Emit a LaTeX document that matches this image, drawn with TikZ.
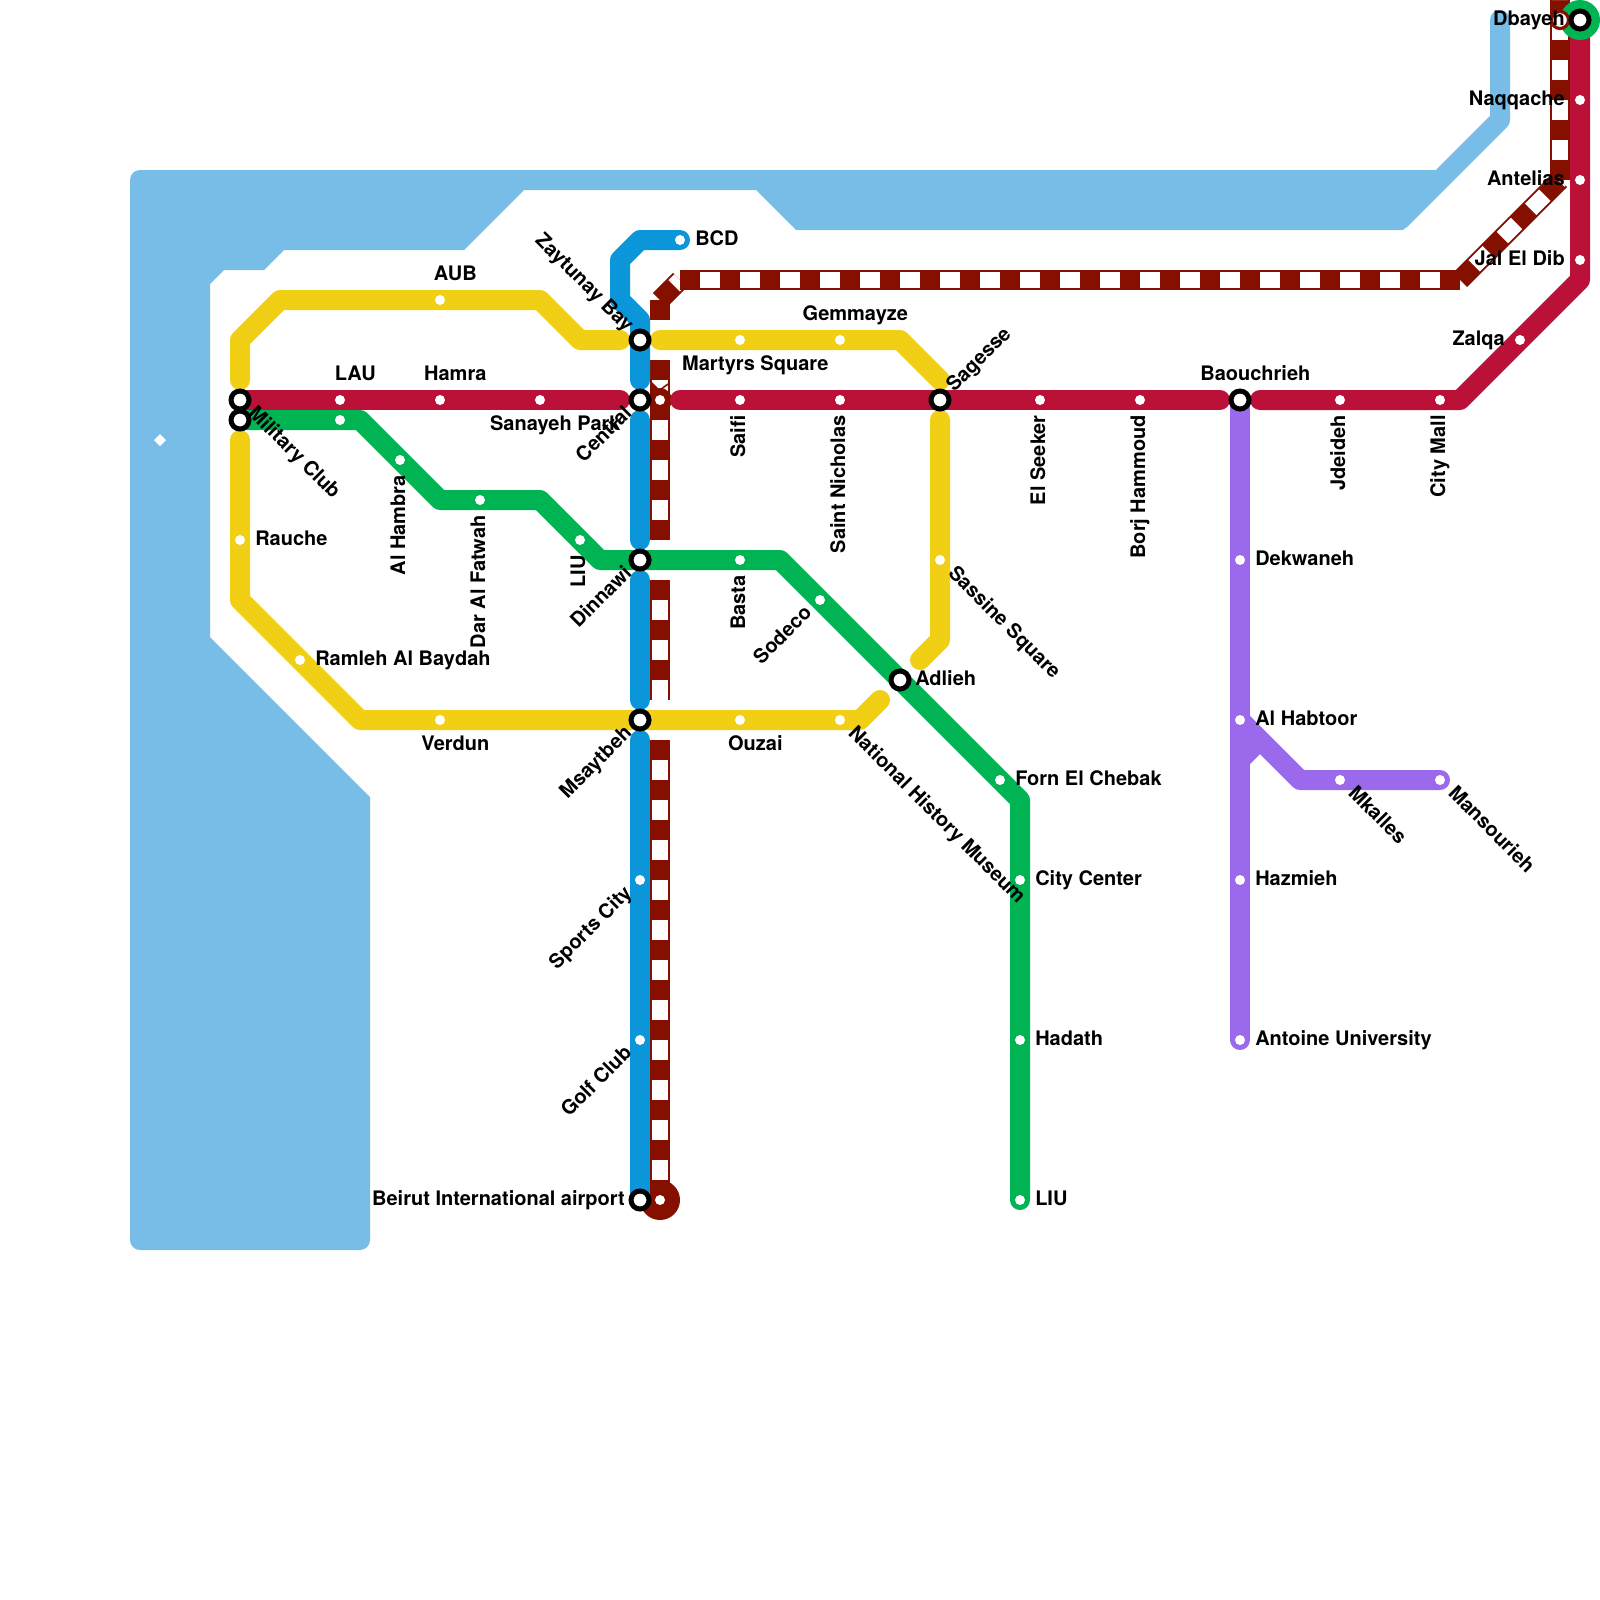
\documentclass[tikz,border=0pt]{standalone}
\usepackage{fontspec}
\setmainfont{TeX Gyre Heros}
\usetikzlibrary{positioning}
\pgfdeclarelayer{lines}
\pgfsetlayers{lines,main}
\definecolor{water}{HTML}{78BCE8}
\definecolor{metroblue}{HTML}{0A96D8}
\definecolor{metroyellow}{HTML}{F0CF15}
\definecolor{metrored}{HTML}{BB1038}
\definecolor{metrogreen}{HTML}{00B454}
\definecolor{metropurple}{HTML}{9B6AEC}
\definecolor{metrorust}{HTML}{851000}
\tikzset{
  metro/.style={draw=#1,line width=15pt,line cap=round,line join=round},
  rail/.style={draw=metrorust,line width=15pt,postaction={draw=white,line width=12pt,dash pattern=on 15pt off 15pt,dash phase=15pt}},
  stop/.style={circle,fill=white,minimum size=7.5pt,inner sep=0pt},
  hub/.style={circle,draw=black,fill=white,line width=3.75pt,minimum size=13.5pt,inner sep=0pt},
  lbl/.style={inner sep=0pt,font=\fontsize{15pt}{18pt}\selectfont\bfseries,text height=10.7pt,text depth=3.2pt,text=black},
  lblR/.style={lbl,anchor=west,xshift=11.25pt},
  lblL/.style={lbl,anchor=east,xshift=-11.25pt},
  lblUp/.style={lbl,xshift=11.5pt,yshift=18.75pt},
  lblDn/.style={lbl,xshift=11.5pt,yshift=-18.75pt}
}
\begin{document}
\begin{tikzpicture}[x=15pt,y=-15pt]
    \useasboundingbox (0,0) rectangle (80,80);

    % bends and free ends
    \coordinate (riverTop) at (75,1);
    \coordinate (riverBend) at (75,6);
    \coordinate (riverEnd) at (70,11);
    \coordinate (redA) at (31,20);
    \coordinate (redB) at (34,20);
    \coordinate (redC) at (61,20);
    \coordinate (redD) at (63,20);
    \coordinate (redE) at (73,20);
    \coordinate (redF) at (79,14);
    \coordinate (yelA) at (12,19);
    \coordinate (yelB) at (12,17);
    \coordinate (yelC) at (14,15);
    \coordinate (yelD) at (27,15);
    \coordinate (yelE) at (29,17);
    \coordinate (yelF) at (31,17);
    \coordinate (yelG) at (33,17);
    \coordinate (yelH) at (45,17);
    \coordinate (yelI) at (47,19);
    \coordinate (yelJ) at (47,21);
    \coordinate (yelK) at (47,32);
    \coordinate (yelL) at (46,33);
    \coordinate (yelM) at (44,35);
    \coordinate (yelN) at (43,36);
    \coordinate (yelO) at (18,36);
    \coordinate (yelP) at (12,30);
    \coordinate (yelQ) at (12,22);
    \coordinate (grnA) at (18,21);
    \coordinate (grnB) at (22,25);
    \coordinate (grnC) at (27,25);
    \coordinate (grnD) at (30,28);
    \coordinate (grnE) at (39,28);
    \coordinate (grnF) at (51,40);
    \coordinate (bluA) at (32,12);
    \coordinate (bluB) at (31,13);
    \coordinate (bluC) at (31,15);
    \coordinate (bluD) at (32,16);
    \coordinate (bluE) at (32,19);
    \coordinate (bluF) at (32,21);
    \coordinate (bluG) at (32,27);
    \coordinate (bluH) at (32,29);
    \coordinate (bluI) at (32,35);
    \coordinate (bluJ) at (32,37);
    \coordinate (purA) at (65,39);
    \coordinate (purB) at (62,38);
    \coordinate (purC) at (63,37);
    \coordinate (rstA) at (33,16);
    \coordinate (rstB) at (33,15);
    \coordinate (rstC) at (34,14);
    \coordinate (rstD) at (73,14);
    \coordinate (rstE) at (78,9);
    \coordinate (rstF) at (78,0);
    \coordinate (rstG) at (33,18);
    \coordinate (rstH) at (33,27);
    \coordinate (rstI) at (33,29);
    \coordinate (rstJ) at (33,35);
    \coordinate (rstK) at (33,37);

    % stops
    \node[stop] (lau) at (17,20) {};
    \node[stop] (lauB) at (17,21) {};
    \node[stop] (aub) at (22,15) {};
    \node[stop] (hamra) at (22,20) {};
    \node[stop] (sanayeh) at (27,20) {};
    \node[stop] (saifi) at (37,20) {};
    \node[stop] (nicholas) at (42,20) {};
    \node[stop] (seeker) at (52,20) {};
    \node[stop] (borj) at (57,20) {};
    \node[stop] (jdeideh) at (67,20) {};
    \node[stop] (citymall) at (72,20) {};
    \node[stop] (zalqa) at (76,17) {};
    \node[stop] (jaldib) at (79,13) {};
    \node[stop] (antelias) at (79,9) {};
    \node[stop] (naqqache) at (79,5) {};
    \node[stop] (rauche) at (12,27) {};
    \node[stop] (ramleh) at (15,33) {};
    \node[stop] (verdun) at (22,36) {};
    \node[stop] (ouzai) at (37,36) {};
    \node[stop] (museum) at (42,36) {};
    \node[stop] (martyrs) at (37,17) {};
    \node[stop] (gemmayze) at (42,17) {};
    \node[stop] (sassine) at (47,28) {};
    \node[stop] (hambra) at (20,23) {};
    \node[stop] (fatwah) at (24,25) {};
    \node[stop] (liuA) at (29,27) {};
    \node[stop] (basta) at (37,28) {};
    \node[stop] (sodeco) at (41,30) {};
    \node[stop] (chebak) at (50,39) {};
    \node[stop] (citycenter) at (51,44) {};
    \node[stop] (hadath) at (51,52) {};
    \node[stop] (liuB) at (51,60) {};
    \node[stop] (bcd) at (34,12) {};
    \node[stop] (sports) at (32,44) {};
    \node[stop] (golf) at (32,52) {};
    \node[stop] (dekwaneh) at (62,28) {};
    \node[stop] (habtoor) at (62,36) {};
    \node[stop] (hazmieh) at (62,44) {};
    \node[stop] (antoine) at (62,52) {};
    \node[stop] (mkalles) at (67,39) {};
    \node[stop] (mansourieh) at (72,39) {};
    \node[stop] (centralB) at (33,20) {};
    \node[stop] (airportB) at (33,60) {};

    % hubs
    \node[hub] (military) at (12,20) {};
    \node[hub] (militaryB) at (12,21) {};
    \node[hub] (zaytunay) at (32,17) {};
    \node[hub] (central) at (32,20) {};
    \node[hub] (dinnawi) at (32,28) {};
    \node[hub] (msaytbeh) at (32,36) {};
    \node[hub] (airport) at (32,60) {};
    \node[hub] (sagesse) at (47,20) {};
    \node[hub] (adlieh) at (45,34) {};
    \node[hub] (baouchrieh) at (62,20) {};
    \node[hub] (dbayeh) at (79,1) {};

    % water and lines, under the stops
    \begin{pgfonlayer}{lines}
    \fill[water,rounded corners=7.5pt] (6.5,62.5) -- (6.5,8.5) -- (20,8.5) [sharp corners] -- (71.8,8.5) -- (70.15,11.5) -- (39.8,11.5) -- (37.8,9.5) -- (26.2,9.5) -- (23.2,12.5) -- (14.2,12.5) -- (13.2,13.5) -- (11.2,13.5) -- (10.5,14.2) -- (10.5,31.85) -- (18.5,39.85) -- (18.5,50) [rounded corners=7.5pt] -- (18.5,62.5) -- cycle;
    \fill[white] (7.7,22) -- (8,21.7) -- (8.3,22) -- (8,22.3) -- cycle;
    \draw[metro=water] (riverTop) -- (riverBend) -- (riverEnd);
    \draw[rail] (rstA) -- (rstB);
    \draw[rail] (rstB) -- (rstC);
    \draw[rail] (rstC) -- (rstD);
    \draw[rail] (rstD) -- (rstE);
    \draw[rail] (rstE) -- (rstF);
    \draw[rail] (rstG) -- (centralB.center);
    \draw[rail] (centralB.center) -- (rstH);
    \draw[rail] (rstI) -- (rstJ);
    \draw[rail] (rstK) -- (airportB.center);
    \fill[metrorust] (centralB.center) circle (9pt);
    \fill[metrorust] (32.5,19) -- (33,19.5) -- (32.5,19.85) -- cycle;
    \draw[metrorust,line width=1.2pt] (33,19.5) -- (33.4,19.2);
    \fill[metrorust] (airportB.center) circle (15pt);
    \draw[metro=metrored] (military.center) -- (redA);
    \draw[metro=metrored] (redB) -- (redC);
    \draw[metro=metrored] (redD) -- (redE) -- (redF) -- (dbayeh.center);
    \draw[metro=metroyellow] (yelA) -- (yelB) -- (yelC) -- (yelD) -- (yelE) -- (yelF);
    \draw[metro=metroyellow] (yelG) -- (yelH) -- (yelI);
    \draw[metro=metroyellow] (yelJ) -- (yelK) -- (yelL);
    \draw[metro=metroyellow] (yelM) -- (yelN) -- (yelO) -- (yelP) -- (yelQ);
    \draw[metro=metrogreen] (militaryB.center) -- (grnA) -- (grnB) -- (grnC) -- (grnD) -- (grnE) -- (grnF) -- (liuB.center);
    \draw[metro=metroblue] (bcd.center) -- (bluA) -- (bluB) -- (bluC) -- (bluD) -- (bluE);
    \draw[metro=metroblue] (bluF) -- (bluG);
    \draw[metro=metroblue] (bluH) -- (bluI);
    \draw[metro=metroblue] (bluJ) -- (airport.center);
    \draw[metro=metropurple] (baouchrieh.center) -- (antoine.center);
    \draw[metro=metropurple] (habtoor.center) -- (purA) -- (mansourieh.center);
    \draw[metro=metropurple,line cap=butt] (purB) -- (purC);
    \fill[metrogreen] (dbayeh.center) circle (15pt);
    \draw[metrorust,fill=white,line width=2.4pt] (78,1) circle (6.4pt);
    \end{pgfonlayer}

    % labels
    \node[lblUp] (aubText) at (aub) {AUB};
    \node[lblUp] (lauText) at (lau) {LAU};
    \node[lblUp] (hamraText) at (hamra) {Hamra};
    \node[lblUp] (gemmayzeText) at (gemmayze) {Gemmayze};
    \node[lblUp] (baouchriehText) at (baouchrieh) {Baouchrieh};
    \node[lblDn] (sanayehText) at (sanayeh) {Sanayeh Park};
    \node[lblDn] (martyrsText) at (martyrs) {Martyrs Square};
    \node[lblDn] (verdunText) at (verdun) {Verdun};
    \node[lblDn] (ouzaiText) at (ouzai) {Ouzai};
    \node[lblR] (bcdText) at (bcd) {BCD};
    \node[lblR] (raucheText) at (rauche) {Rauche};
    \node[lblR] (ramlehText) at (ramleh) {Ramleh Al Baydah};
    \node[lblR] (adliehText) at (adlieh) {Adlieh};
    \node[lblR] (chebakText) at (chebak) {Forn El Chebak};
    \node[lblR] (citycenterText) at (citycenter) {City Center};
    \node[lblR] (hadathText) at (hadath) {Hadath};
    \node[lblR] (liuBText) at (liuB) {LIU};
    \node[lblR] (dekwanehText) at (dekwaneh) {Dekwaneh};
    \node[lblR] (habtoorText) at (habtoor) {Al Habtoor};
    \node[lblR] (hazmiehText) at (hazmieh) {Hazmieh};
    \node[lblR] (antoineText) at (antoine) {Antoine University};
    \node[lblL] (airportText) at (airport) {Beirut International airport};
    \node[lblL] (dbayehText) at (dbayeh) {Dbayeh};
    \node[lblL] (naqqacheText) at (naqqache) {Naqqache};
    \node[lblL] (anteliasText) at (antelias) {Antelias};
    \node[lblL] (jaldibText) at (jaldib) {Jal El Dib};
    \node[lblL] (zalqaText) at (zalqa) {Zalqa};
    \node[rotate=45,lblR] (sagesseText) at (sagesse) {Sagesse};
    \node[rotate=-45,lblR] (militaryText) at (military) {Military Club};
    \node[rotate=-45,lblR] (sassineText) at (sassine) {Sassine Square};
    \node[rotate=-45,lblR] (museumText) at (museum) {National History Museum};
    \node[rotate=-45,lblR] (mkallesText) at (mkalles) {Mkalles};
    \node[rotate=-45,lblR] (mansouriehText) at (mansourieh) {Mansourieh};
    \node[rotate=-45,lblL] (zaytunayText) at (zaytunay) {Zaytunay Bay};
    \node[rotate=45,lblL] (centralText) at (central) {Central};
    \node[rotate=45,lblL] (dinnawiText) at (dinnawi) {Dinnawi};
    \node[rotate=45,lblL] (msaytbehText) at (msaytbeh) {Msaytbeh};
    \node[rotate=45,lblL] (sportsText) at (sports) {Sports City};
    \node[rotate=45,lblL] (golfText) at (golf) {Golf Club};
    \node[rotate=45,lblL] (sodecoText) at (sodeco) {Sodeco};
    \node[rotate=90,lblL] (saifiText) at (saifi) {Saifi};
    \node[rotate=90,lblL] (nicholasText) at (nicholas) {Saint Nicholas};
    \node[rotate=90,lblL] (seekerText) at (seeker) {El Seeker};
    \node[rotate=90,lblL] (borjText) at (borj) {Borj Hammoud};
    \node[rotate=90,lblL] (jdeidehText) at (jdeideh) {Jdeideh};
    \node[rotate=90,lblL] (citymallText) at (citymall) {City Mall};
    \node[rotate=90,lblL] (hambraText) at (hambra) {Al Hambra};
    \node[rotate=90,lblL] (fatwahText) at (fatwah) {Dar Al Fatwah};
    \node[rotate=90,lblL] (liuAText) at (liuA) {LIU};
    \node[rotate=90,lblL] (bastaText) at (basta) {Basta};
  \end{tikzpicture}
\end{document}
